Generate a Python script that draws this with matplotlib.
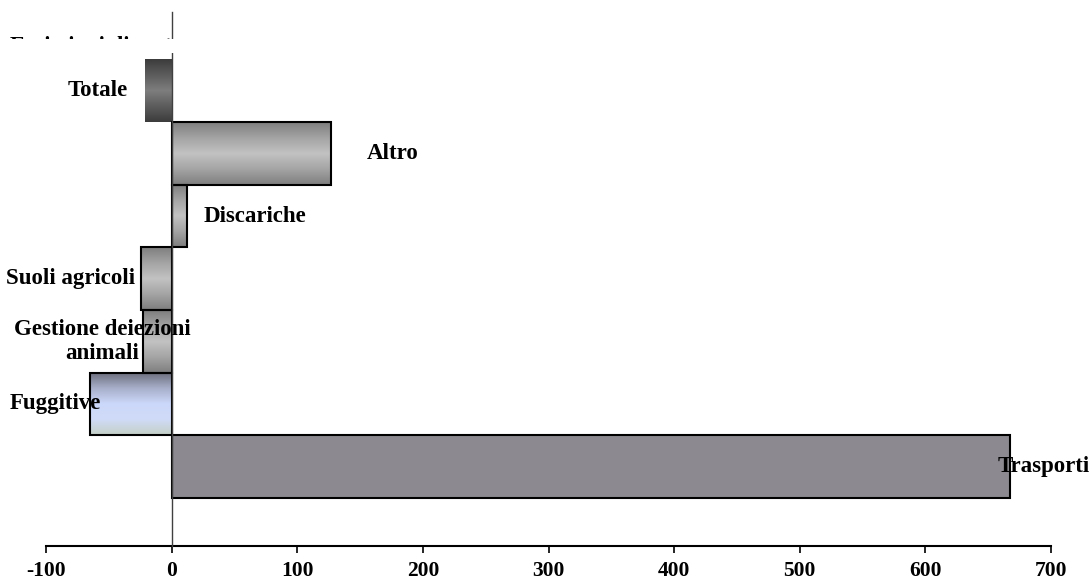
import numpy as np
import matplotlib
matplotlib.use("Agg")
import matplotlib.pyplot as plt
from matplotlib.patches import Rectangle
from matplotlib.colors import LinearSegmentedColormap

categories = ["Trasporti", "Fuggitive", "Gestione deiezioni\nanimali", "Suoli agricoli",
              "Discariche", "Altro", "Totale"]
values = [667, -65, -23, -24, 12, 127, -21]
xticks = [-100, 0, 100, 200, 300, 400, 500, 600, 700]

plt.rcParams['font.family'] = ['Liberation Serif', 'DejaVu Serif']

fig = plt.figure(figsize=(10.89, 5.81), dpi=100)
W, H = 1089, 581
ax = fig.add_axes([46 / W, 1 - 546 / H, (1051 - 46) / W, (546 - 12) / H])

ypos = np.arange(len(categories))
YLIM = (-1.27, 7.262)
ax.set_xlim(-100, 700)
ax.set_ylim(*YLIM)

cm_gray = LinearSegmentedColormap.from_list("g", ["#7e7e7e", "#a4a4a4", "#c2c2c2", "#a4a4a4", "#7e7e7e"])
cm_dark = LinearSegmentedColormap.from_list("d", ["#3c3c3c", "#5c5c5c", "#7e7e7e", "#5c5c5c", "#3c3c3c"])
cm_blue = LinearSegmentedColormap.from_list("b", ["#6a6c7a", "#a6aec8", "#ccd8fa", "#d0dbf8", "#c4d0c6"])
grad = np.linspace(0, 1, 256).reshape(-1, 1)

styles = ["flat", "blue", "gray", "gray", "gray", "gray", "dark"]

bars = ax.barh(ypos, values, height=1.0, color="none", edgecolor="none")
for b, st, v, y in zip(bars, styles, values, ypos):
    x0, x1 = min(0, v), max(0, v)
    y0, y1 = y - 0.5, y + 0.5
    if st == "flat":
        ax.add_patch(Rectangle((x0, y0), x1 - x0, 1.0, facecolor="#8c8a90",
                               edgecolor="black", linewidth=1.5, zorder=2))
        continue
    cmap = {"gray": cm_gray, "dark": cm_dark, "blue": cm_blue}[st]
    ax.imshow(grad, aspect="auto", cmap=cmap, extent=(x0, x1, y0, y1),
              origin="upper", zorder=1, interpolation="bilinear")
    if st != "dark":
        ax.add_patch(Rectangle((x0, y0), x1 - x0, 1.0, facecolor="none",
                               edgecolor="black", linewidth=1.5, zorder=2))
ax.set_xlim(-100, 700)
ax.set_ylim(*YLIM)

fs = 16.5
lab = dict(fontsize=fs, fontweight="bold", zorder=5)
def put(i, px, ha, **kw):
    xd = ax.transData.inverted().transform((px, 0))[0]
    ax.text(xd, ypos[i], categories[i], ha=ha, va="center", **lab, **kw)

put(6, 128, "right")
put(5, 367, "left")
put(4, 204, "left")
put(3, 135, "right")
put(2, 102, "center", multialignment="center", linespacing=1.15)
put(1, 10, "left")
put(0, 998, "left")

ax.spines["top"].set_visible(False)
ax.spines["right"].set_visible(False)
ax.spines["left"].set_position(("data", 0))
ax.spines["left"].set_color("#404040")
ax.spines["left"].set_linewidth(1.0)
ax.spines["left"].set_zorder(3)
ax.spines["bottom"].set_linewidth(1.5)
ax.set_yticks([])
ax.set_xticks(xticks)
ax.set_xticklabels([str(t) for t in xticks], fontsize=15.5, fontweight="bold")
ax.tick_params(axis="x", direction="out", length=5, width=1.2, pad=6)

# clipped title sliver at top
fig.text(10 / W, 1 - 52 / H, "Emissioni di metano", ha="left", va="baseline",
         fontsize=fs, fontweight="bold", zorder=4)
fig.add_artist(Rectangle((0, 1 - 53 / H), 0.5, 14 / H, transform=fig.transFigure,
                         facecolor="white", edgecolor="none", zorder=6))

fig.savefig("out.png", dpi=100)
